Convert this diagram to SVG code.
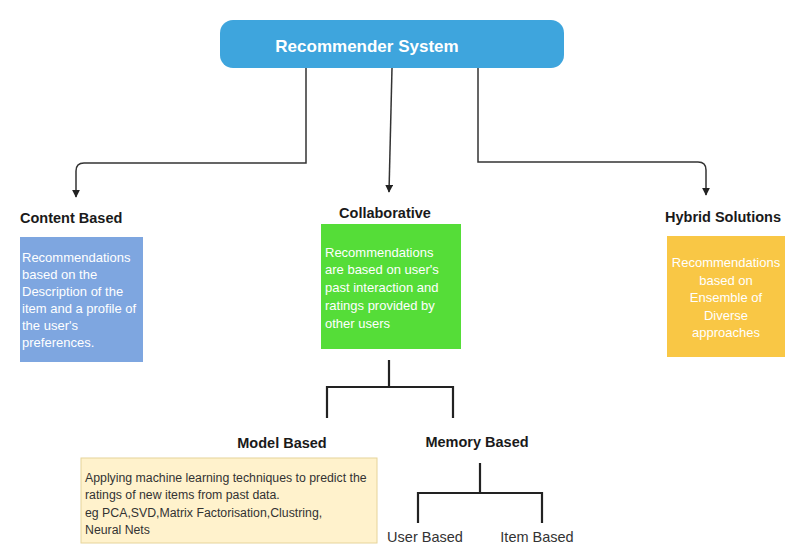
<svg xmlns="http://www.w3.org/2000/svg" width="785" height="554" viewBox="0 0 785 554">
<defs>
<style>
.hdr{font-family:"Liberation Sans",Arial,sans-serif;font-weight:bold;font-size:14.5px;fill:#1a1a1a}
.wt{font-family:"Liberation Sans",Arial,sans-serif;font-size:13px;fill:#ffffff}
.dk{font-family:"Liberation Sans",Arial,sans-serif;font-size:12.3px;fill:#333333}
.leaf{font-family:"Liberation Sans",Arial,sans-serif;font-size:14.5px;fill:#333333}
.thin{fill:none;stroke:#333;stroke-width:1.5}
.thick{fill:none;stroke:#222;stroke-width:2.2}
</style>
<marker id="arr" viewBox="0 0 10 10" refX="9" refY="5" markerWidth="8" markerHeight="8" markerUnits="userSpaceOnUse" orient="auto">
<path d="M0,0 L10,5 L0,10 Z" fill="#222"/>
</marker>
</defs>
<rect width="785" height="554" fill="#ffffff"/>
<g id="connectors">
<path class="thin" d="M306,68 V163 H84 Q76,163 76,171 V197" marker-end="url(#arr)"/>
<path class="thin" d="M392,68 L389,192" marker-end="url(#arr)"/>
<path class="thin" d="M478,68 V162 H698 Q706,162 706,170 V195" marker-end="url(#arr)"/>
<path class="thick" d="M389,360 V387 M327,418 V387 H453 V418"/>
<path class="thick" d="M480,463 V493 M418,523 V493 H542 V523"/>
</g>
<g id="recommender-system">
<rect x="220" y="20" width="344" height="48" rx="13" fill="#3ea5dd"/>
<text x="367" y="52" text-anchor="middle" font-family="Liberation Sans,Arial,sans-serif" font-weight="bold" font-size="17px" fill="#ffffff">Recommender System</text>
</g>
<g id="content-based">
<text class="hdr" x="20" y="223">Content Based</text>
<rect x="20" y="237" width="123" height="125" fill="#7ea6e0"/>
<text class="wt" x="22" y="262">Recommendations</text>
<text class="wt" x="22" y="279">based on the</text>
<text class="wt" x="22" y="296">Description of the</text>
<text class="wt" x="22" y="313">item and a profile of</text>
<text class="wt" x="22" y="330">the user's</text>
<text class="wt" x="22" y="347">preferences.</text>
</g>
<g id="collaborative">
<text class="hdr" x="385" y="218" text-anchor="middle">Collaborative</text>
<rect x="321" y="224" width="140" height="125" fill="#55dd38"/>
<text class="wt" x="325" y="257">Recommendations</text>
<text class="wt" x="325" y="274">are based on user's</text>
<text class="wt" x="325" y="292">past interaction and</text>
<text class="wt" x="325" y="310">ratings provided by</text>
<text class="wt" x="325" y="328">other users</text>
</g>
<g id="hybrid-solutions">
<text class="hdr" x="665" y="222">Hybrid Solutions</text>
<rect x="667" y="236" width="118" height="121" fill="#f9c745"/>
<text class="wt" x="726" y="267" text-anchor="middle">Recommendations</text>
<text class="wt" x="726" y="285" text-anchor="middle">based on</text>
<text class="wt" x="726" y="302" text-anchor="middle">Ensemble of</text>
<text class="wt" x="726" y="320" text-anchor="middle">Diverse</text>
<text class="wt" x="726" y="337" text-anchor="middle">approaches</text>
</g>
<g id="model-based">
<text class="hdr" x="282" y="448" text-anchor="middle">Model Based</text>
<rect x="81" y="458" width="296" height="85" fill="#fff2cc" stroke="#e6d49a" stroke-width="1"/>
<text class="dk" x="85" y="482">Applying machine learning techniques to predict the</text>
<text class="dk" x="85" y="499">ratings of new items from past data.</text>
<text class="dk" x="85" y="517">eg PCA,SVD,Matrix Factorisation,Clustring,</text>
<text class="dk" x="85" y="534">Neural Nets</text>
</g>
<g id="memory-based">
<text class="hdr" x="477" y="447" text-anchor="middle">Memory Based</text>
</g>
<g id="user-based">
<text class="leaf" x="425" y="542" text-anchor="middle">User Based</text>
</g>
<g id="item-based">
<text class="leaf" x="537" y="542" text-anchor="middle">Item Based</text>
</g>
</svg>
